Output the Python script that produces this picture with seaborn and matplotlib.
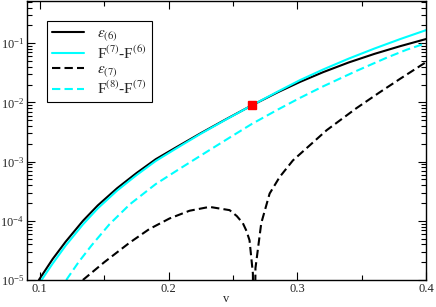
import numpy as np
import pandas as pd
import matplotlib
matplotlib.use("Agg")
import matplotlib.pyplot as plt
import seaborn as sns

# curves: v and log10 of the plotted value
eps6_v = [0.0992, 0.11, 0.12, 0.1335, 0.145, 0.16, 0.175, 0.19, 0.205, 0.225, 0.245,
          0.2647, 0.285, 0.302, 0.32, 0.34, 0.36, 0.38, 0.40]
eps6_lg = [-5.0, -4.644, -4.354, -4.0, -3.74, -3.45, -3.195, -2.96, -2.77, -2.52, -2.28,
           -2.05, -1.827, -1.655, -1.49, -1.325, -1.18, -1.05, -0.93]

f76_v = [0.1013, 0.11, 0.12, 0.1335, 0.145, 0.16, 0.175, 0.19, 0.205, 0.225, 0.245,
         0.2647, 0.285, 0.302, 0.32, 0.34, 0.36, 0.38, 0.40]
f76_lg = [-5.0, -4.72, -4.42, -4.06, -3.79, -3.49, -3.23, -2.99, -2.79, -2.53, -2.285,
          -2.05, -1.815, -1.625, -1.445, -1.26, -1.09, -0.93, -0.78]

eps7_v = [0.1334, 0.15, 0.1697, 0.185, 0.2008, 0.2163, 0.2318, 0.2474, 0.253, 0.2577,
          0.2605, 0.2629, 0.2655, 0.2665, 0.2675, 0.272, 0.2785, 0.2863, 0.2966,
          0.3228, 0.3458, 0.364, 0.38, 0.40]
eps7_lg = [-5.0, -4.70, -4.37, -4.14, -3.96, -3.83, -3.765, -3.82, -3.92, -4.04,
           -4.17, -4.33, -4.89, -7.0, -4.80, -4.04, -3.54, -3.26, -2.98,
           -2.47, -2.10, -1.83, -1.60, -1.32]

f87_v = [0.1205, 0.13, 0.14, 0.154, 0.17, 0.19, 0.2087, 0.23, 0.25, 0.265, 0.285,
         0.302, 0.32, 0.3458, 0.37, 0.385, 0.40]
f87_lg = [-5.0, -4.70, -4.42, -4.06, -3.72, -3.38, -3.12, -2.83, -2.56, -2.36, -2.12,
          -1.925, -1.73, -1.47, -1.24, -1.11, -1.0]

mark_v = [0.2647]
mark_y = [8.9e-3]

labels = [r"$\varepsilon_{(6)}$", r"F$^{(7)}$-F$^{(6)}\;\;\;$",
          r"$\varepsilon_{(7)}$", r"F$^{(8)}$-F$^{(7)}\;\;\;$"]

sns.set_style("ticks")
plt.rcParams["font.family"] = ["Liberation Serif", "DejaVu Serif"]
plt.rcParams["mathtext.fontset"] = "stix"
plt.rcParams["font.size"] = 9

fig = plt.figure(figsize=(4.36, 3.07), dpi=100)
ax = fig.add_axes([27 / 436, 27 / 307, 399 / 436, 279 / 307])

cyan = "#00ffff"
series = [(eps6_v, eps6_lg, "black", "-"),
          (f76_v, f76_lg, cyan, "-"),
          (eps7_v, eps7_lg, "black", (0, (4, 2))),
          (f87_v, f87_lg, cyan, (0, (4, 2)))]
for (vv, lg, col, ls), lab in zip(series, labels):
    sns.lineplot(x=vv, y=10.0 ** np.array(lg), ax=ax, color=col, lw=1.5,
                 sort=False, linestyle=ls, label=lab)
ax.plot(mark_v, mark_y, "s", color="red", ms=6, zorder=5)

ax.set_yscale("log")
ax.set_xlim(0.09, 0.4)
ax.set_ylim(1e-5, 0.516)
ax.set_xticks([0.1, 0.2, 0.3, 0.4])
ax.set_xticklabels(["0.1", "0.2", "0.3", "0.4"])
ax.set_xticks([0.15, 0.25, 0.35], minor=True)
ax.set_xlabel("v")
ax.xaxis.set_label_coords(0.5, -0.045)
ax.set_ylabel("")

ax.tick_params(which="both", direction="in", top=True, right=True, width=0.8, color="black")
ax.tick_params(which="major", length=6)
ax.tick_params(which="minor", length=3.3)
ax.tick_params(axis="both", labelsize=9, pad=2)
for s in ax.spines.values():
    s.set_linewidth(1.0)
    s.set_color("black")

leg = ax.legend(loc="upper left", bbox_to_anchor=(0.05, 0.928), borderaxespad=0,
                fancybox=False, framealpha=1, edgecolor="black", fontsize=11,
                handlelength=2.1, labelspacing=0.05, handletextpad=0.8, borderpad=0.35)
leg.get_frame().set_linewidth(0.8)

fig.savefig("out.png", dpi=100)
